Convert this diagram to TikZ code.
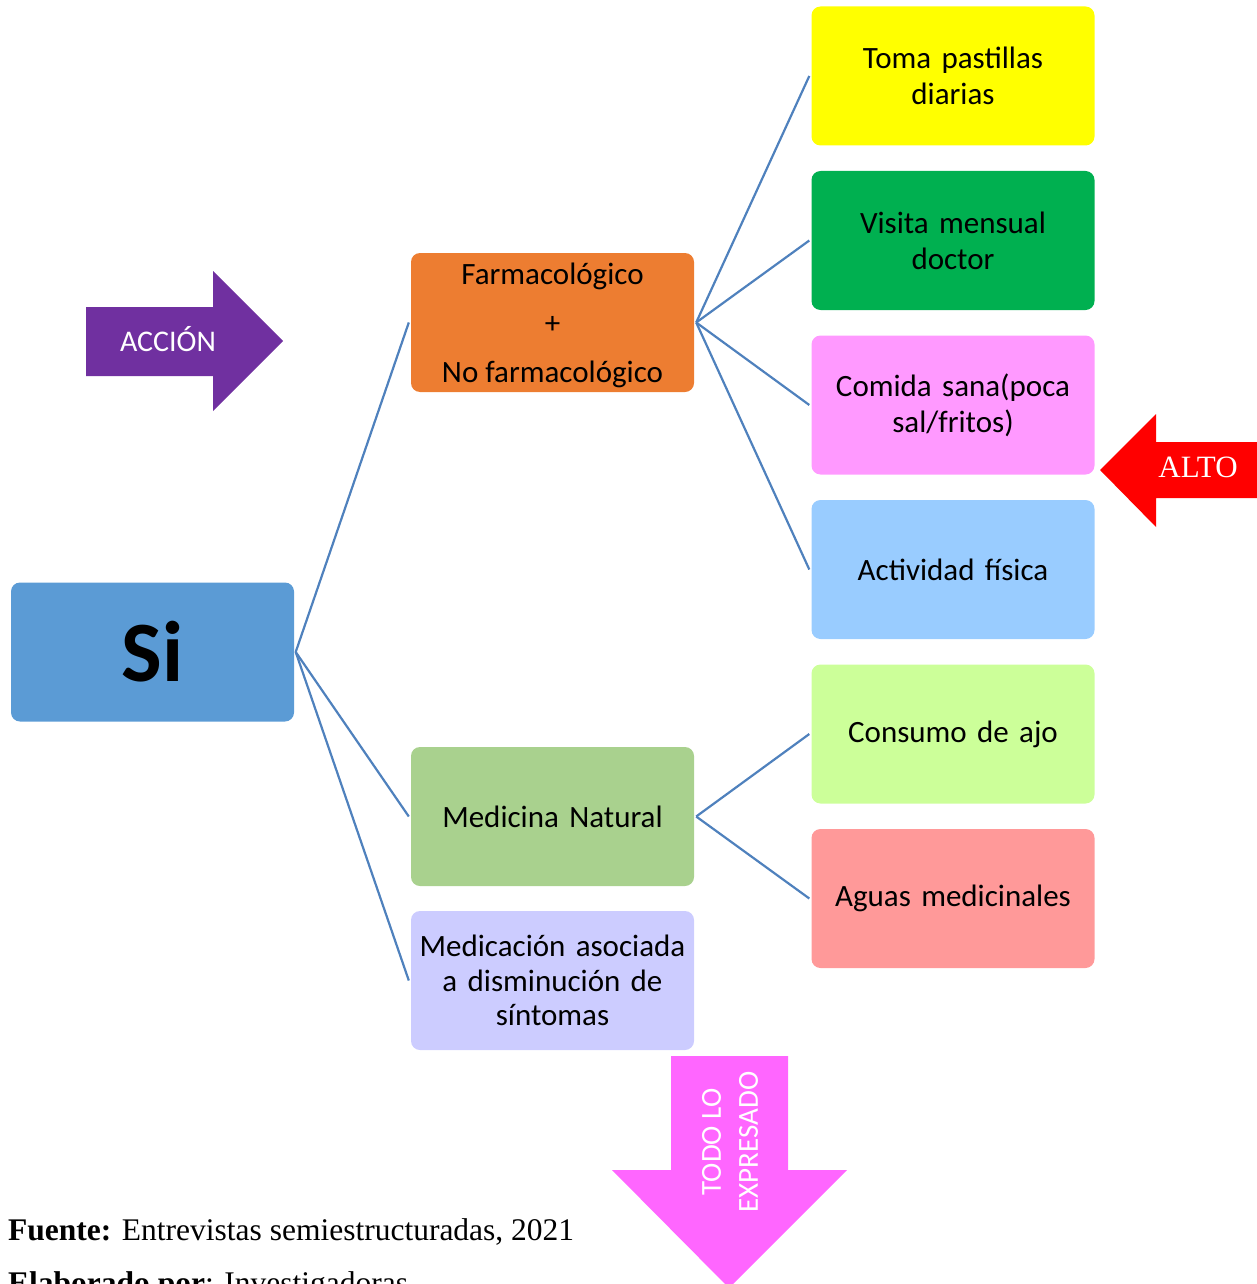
\documentclass[tikz,border=0pt]{standalone}
\usepackage{fontspec}
\setmainfont{Carlito}
\newfontfamily\serifface{Liberation Serif}
\definecolor{siblue}{HTML}{5B9BD5}
\definecolor{farmorange}{HTML}{ED7D31}
\definecolor{natgreen}{HTML}{A9D18E}
\definecolor{lavender}{HTML}{CCCCFF}
\definecolor{pillyellow}{HTML}{FFFF00}
\definecolor{visitgreen}{HTML}{00B050}
\definecolor{foodpink}{HTML}{FF99FF}
\definecolor{sportblue}{HTML}{99CCFF}
\definecolor{garlicgreen}{HTML}{CCFF99}
\definecolor{watersalmon}{HTML}{FF9999}
\definecolor{linkblue}{HTML}{4F81BD}
\definecolor{actpurple}{HTML}{7030A0}
\definecolor{stopred}{HTML}{FF0000}
\definecolor{allpink}{HTML}{FF66FF}
\tikzset{
  box/.style={rounded corners=9pt, minimum width=283pt, minimum height=139pt,
    inner sep=0pt, align=center, text width=280pt,
    font=\fontsize{31}{36}\selectfont},
  link/.style={draw=linkblue, line width=2.2pt},
  arrowlabel/.style={text=white, inner sep=0pt, align=center},
  note/.style={anchor=base west, inner sep=0pt, font=\fontsize{31.5}{34}\selectfont\serifface}
}
\begin{document}
\begin{tikzpicture}[x=1pt,y=-1pt]
\useasboundingbox (0,0) rectangle (1257,1284);
\clip (0,0) rectangle (1257,1284);

% root and second level
\node[box, fill=siblue, font=\fontsize{86}{90}\selectfont\bfseries] (si) at (152.5,652) {Si};
\node[box, fill=farmorange] (farm) at (552.5,322.5) {};
\node[inner sep=0pt, align=center, font=\fontsize{31}{49}\selectfont] (farmtext) at (552.5,325.5)
  {Farmacológico\\+\\No farmacológico};
\node[box, fill=natgreen] (natural) at (552.5,816.5) {Medicina Natural};
\node[box, fill=lavender, font=\fontsize{31}{34.5}\selectfont] (sintomas) at (552.5,980.5)
  {Medicación asociada\\a disminución de\\síntomas};

% third level
\node[box, fill=pillyellow] (pastillas) at (953,76) {Toma pastillas\\diarias};
\node[box, fill=visitgreen] (visita) at (953,240.5) {Visita mensual\\doctor};
\node[box, fill=foodpink] (comida) at (953,405) {Comida sana(poca\\sal/fritos)};
\node[box, fill=sportblue] (actividad) at (953,569.5) {Actividad física};
\node[box, fill=garlicgreen] (ajo) at (953,734) {Consumo de ajo};
\node[box, fill=watersalmon] (aguas) at (953,898.5) {Aguas medicinales};

% connectors
\draw[link] ([xshift=1.5pt]si.east) -- ([xshift=-2pt]farm.west);
\draw[link] ([xshift=1.5pt]si.east) -- ([xshift=-2pt]natural.west);
\draw[link] ([xshift=1.5pt]si.east) -- ([xshift=-2pt]sintomas.west);
\foreach \t in {pastillas,visita,comida,actividad}
  \draw[link] ([xshift=2pt]farm.east) -- ([xshift=-2pt]\t.west);
\foreach \t in {ajo,aguas}
  \draw[link] ([xshift=2pt]natural.east) -- ([xshift=-2pt]\t.west);

% block arrows
\fill[actpurple] (86,307) -- (213,307) -- (213,271) -- (283,341) -- (213,411)
  -- (213,376) -- (86,376) -- cycle;
\node[arrowlabel, font=\fontsize{30}{34}\selectfont] (accion) at (168,339) {ACCIÓN};

\fill[stopred] (1257,442) -- (1156,442) -- (1156,414) -- (1100,470) -- (1156,527)
  -- (1156,498) -- (1257,498) -- cycle;
\node[arrowlabel, font=\fontsize{31}{34}\selectfont\serifface] (alto) at (1198,467) {ALTO};

\fill[allpink] (671,1056) -- (788,1056) -- (788,1170) -- (847,1170) -- (729,1288)
  -- (612,1170) -- (671,1170) -- cycle;
\node[arrowlabel, rotate=90, font=\fontsize{29}{37}\selectfont] (todo) at (730,1142)
  {TODO LO\\EXPRESADO};

% source notes
\node[note] (fuente) at (8,1240)
  {\textbf{Fuente:} Entrevistas semiestructuradas, 2021};
\node[note] (elaborado) at (8,1293)
  {\textbf{Elaborado por}: Investigadoras};
\end{tikzpicture}
\end{document}
